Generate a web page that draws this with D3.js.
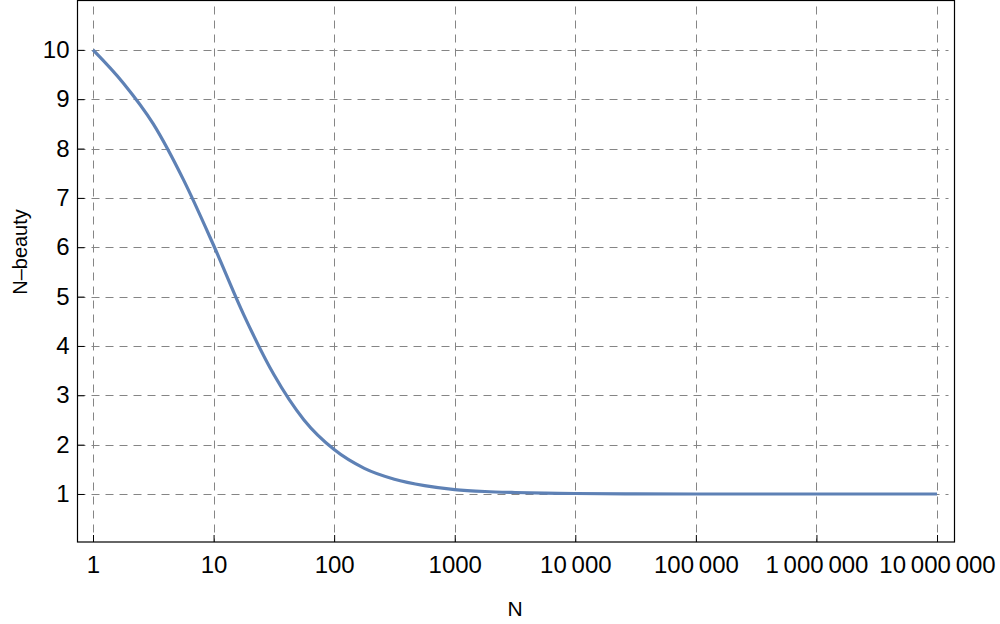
<!DOCTYPE html>
<html>
<head>
<meta charset="utf-8">
<script src="https://cdn.jsdelivr.net/npm/d3@7"></script>
<style>
  body { margin: 0; background: #fff; }
  text { font-family: "Liberation Sans", Arial, sans-serif; fill: #000; }
</style>
</head>
<body>
<script>
// values (N on a quarter-decade grid)
var nValues = [1, 1.78, 3.16, 5.62, 10, 17.8, 31.6, 56.2, 100, 178, 316, 562, 1000, 1780, 3160, 5620, 10000, 31600, 100000, 1000000, 10000000];
var beauty  = [10, 9.33, 8.5, 7.37, 6.04, 4.63, 3.42, 2.5, 1.9, 1.52, 1.3, 1.17, 1.09, 1.05, 1.03, 1.018, 1.01, 1.003, 1.0, 1.0, 1.0];
var xTicks = [1, 10, 100, 1000, 10000, 100000, 1000000, 10000000];
var yTicks = [1, 2, 3, 4, 5, 6, 7, 8, 9, 10];

var W = 1000, H = 624;
var plotL = 77.5, plotR = 954.5, plotT = 0.5, plotB = 542;

var svg = d3.select("body").append("svg")
  .attr("width", W)
  .attr("height", H);

var xScale = d3.scaleLog()
  .domain([Math.pow(10, -0.1286), Math.pow(10, 7.145)])
  .range([plotL, plotR]);
var yScale = d3.scaleLinear()
  .domain([0.027, 11.0])
  .range([plotB, plotT]);

// grid
var grid = svg.append("g")
  .attr("stroke", "#858585")
  .attr("stroke-width", 1)
  .attr("stroke-dasharray", "8,6");
grid.selectAll("line.v")
  .data(xTicks)
  .enter()
  .append("line")
  .attr("x1", function (d) { return Math.round(xScale(d)) + 0.5; })
  .attr("x2", function (d) { return Math.round(xScale(d)) + 0.5; })
  .attr("y1", plotT + 6)
  .attr("y2", plotB);
grid.selectAll("line.h")
  .data(yTicks)
  .enter()
  .append("line")
  .attr("y1", function (d) { return Math.round(yScale(d)) + 0.5; })
  .attr("y2", function (d) { return Math.round(yScale(d)) + 0.5; })
  .attr("x1", plotL)
  .attr("x2", plotR - 6);

// curve
var pts = nValues.map(function (n, i) { return [n, beauty[i]]; });
var line = d3.line()
  .x(function (d) { return xScale(d[0]); })
  .y(function (d) { return yScale(d[1]); })
  .curve(d3.curveMonotoneX);
svg.append("path")
  .datum(pts)
  .attr("d", line)
  .attr("fill", "none")
  .attr("stroke", "#5E81B5")
  .attr("stroke-width", 3.2)
  .attr("stroke-linecap", "butt");

// frame
svg.append("rect")
  .attr("x", plotL)
  .attr("y", plotT)
  .attr("width", plotR - plotL)
  .attr("height", plotB - plotT)
  .attr("fill", "none")
  .attr("stroke", "#000")
  .attr("stroke-width", 1.2);

function fmt(d) {
  var s = String(d);
  if (s.length <= 4) return s;
  return s.replace(/\B(?=(\d{3})+(?!\d))/g, "\u2009");
}

var xAxis = d3.axisBottom(xScale)
  .tickValues(xTicks)
  .tickSize(-7)
  .tickPadding(14)
  .tickFormat(fmt);
var gx = svg.append("g")
  .attr("transform", "translate(0," + plotB + ")")
  .call(xAxis);
gx.select(".domain").remove();
gx.selectAll(".tick line").attr("stroke", "#000").attr("stroke-width", 1);
gx.selectAll(".tick text")
  .style("font-size", "24px")
  .style("font-family", "'Liberation Sans', Arial, sans-serif");

var yAxis = d3.axisLeft(yScale)
  .tickValues(yTicks)
  .tickSize(-7)
  .tickPadding(8)
  .tickFormat(d3.format("d"));
var gy = svg.append("g")
  .attr("transform", "translate(" + plotL + ",0)")
  .call(yAxis);
gy.select(".domain").remove();
gy.selectAll(".tick line").attr("stroke", "#000").attr("stroke-width", 1);
gy.selectAll(".tick text")
  .style("font-size", "24px")
  .style("font-family", "'Liberation Sans', Arial, sans-serif");

// axis labels
svg.append("text")
  .attr("x", 515)
  .attr("y", 616)
  .style("text-anchor", "middle")
  .style("font-size", "21px")
  .text("N");

svg.append("text")
  .attr("transform", "translate(27,252) rotate(-90)")
  .style("text-anchor", "middle")
  .style("font-size", "20px")
  .text("N\u2013beauty");
</script>
</body>
</html>
